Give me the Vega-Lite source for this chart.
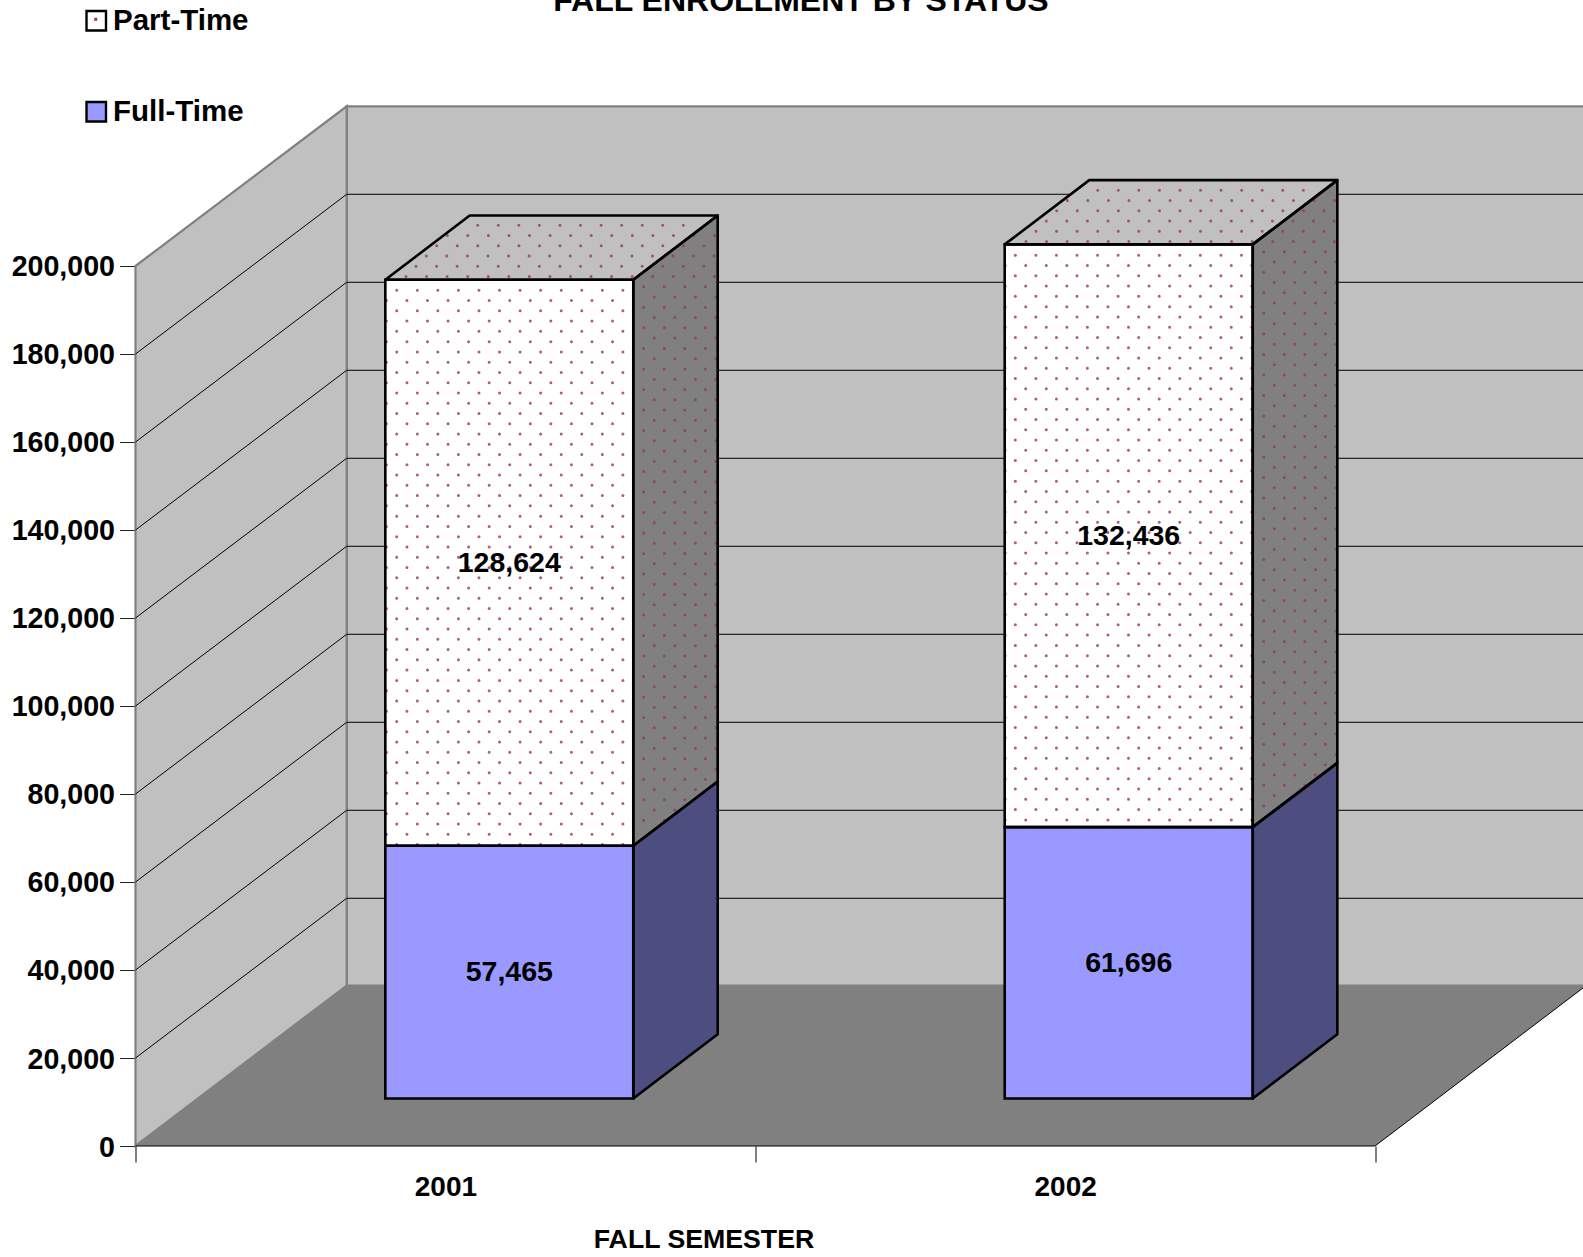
{"$schema":"https://vega.github.io/schema/vega-lite/v6.json","width":1447.5,"height":1146,"autosize":{"type":"none"},"padding":{"left":135.5,"top":0,"right":0,"bottom":111},"background":"white",
"config":{"view":{"stroke":null},"font":"Liberation Sans"},
"datasets":{
"chartTitle":[{"text":"FALL ENROLLMENT BY STATUS","x":2001.5738,"y":257954}],
"walls":[{"part":"back","x":2000.8408,"y":236300,"y2":36477},{"part":"back","x":2002.8408,"y":236300,"y2":36477},{"part":"left","x":2000.5,"y":200000,"y2":0},{"part":"left","x":2000.8408,"y":236300,"y2":36477},{"part":"floor","x":2000.5,"y":0,"y2":0},{"part":"floor","x":2000.8408,"y":36477,"y2":0},{"part":"floor","x":2002.5,"y":36477,"y2":0},{"part":"floor","x":2002.8408,"y":36477,"y2":36477}],
"grid":[{"s":"20000","x":2000.5,"y":20000},{"s":"20000","x":2000.8408,"y":56300},{"s":"20000","x":2002.8408,"y":56300},{"s":"40000","x":2000.5,"y":40000},{"s":"40000","x":2000.8408,"y":76300},{"s":"40000","x":2002.8408,"y":76300},{"s":"60000","x":2000.5,"y":60000},{"s":"60000","x":2000.8408,"y":96300},{"s":"60000","x":2002.8408,"y":96300},{"s":"80000","x":2000.5,"y":80000},{"s":"80000","x":2000.8408,"y":116300},{"s":"80000","x":2002.8408,"y":116300},{"s":"100000","x":2000.5,"y":100000},{"s":"100000","x":2000.8408,"y":136300},{"s":"100000","x":2002.8408,"y":136300},{"s":"120000","x":2000.5,"y":120000},{"s":"120000","x":2000.8408,"y":156300},{"s":"120000","x":2002.8408,"y":156300},{"s":"140000","x":2000.5,"y":140000},{"s":"140000","x":2000.8408,"y":176300},{"s":"140000","x":2002.8408,"y":176300},{"s":"160000","x":2000.5,"y":160000},{"s":"160000","x":2000.8408,"y":196300},{"s":"160000","x":2002.8408,"y":196300},{"s":"180000","x":2000.5,"y":180000},{"s":"180000","x":2000.8408,"y":216300},{"s":"180000","x":2002.8408,"y":216300},{"s":"front","x":2000.5,"y":0},{"s":"front","x":2002.5,"y":0},{"s":"front","x":2002.8408,"y":36477}],
"faces":[
{"id":"a-ft","kind":"side-ft","x":2001.3032,"y":68245,"y2":10780},{"id":"a-ft","kind":"side-ft","x":2001.4394,"y":82845,"y2":25380},
{"id":"a-pt","kind":"side-pt","x":2001.3032,"y":196869,"y2":68245},{"id":"a-pt","kind":"side-pt","x":2001.4394,"y":211469,"y2":82845},
{"id":"a-top","kind":"top","x":2000.9031,"y":196869,"y2":196869},{"id":"a-top","kind":"top","x":2001.0393,"y":211469,"y2":196869},{"id":"a-top","kind":"top","x":2001.3032,"y":211469,"y2":196869},{"id":"a-top","kind":"top","x":2001.4394,"y":211469,"y2":211469},
{"id":"b-ft","kind":"side-ft","x":2002.3027,"y":72476,"y2":10780},{"id":"b-ft","kind":"side-ft","x":2002.4392,"y":87076,"y2":25380},
{"id":"b-pt","kind":"side-pt","x":2002.3027,"y":204912,"y2":72476},{"id":"b-pt","kind":"side-pt","x":2002.4392,"y":219512,"y2":87076},
{"id":"b-top","kind":"top","x":2001.9025,"y":204912,"y2":204912},{"id":"b-top","kind":"top","x":2002.039,"y":219512,"y2":204912},{"id":"b-top","kind":"top","x":2002.3027,"y":219512,"y2":204912},{"id":"b-top","kind":"top","x":2002.4392,"y":219512,"y2":219512}],
"fronts":[
{"semester":2001,"status":"Full-Time","value":57465,"x":2000.9031,"x2":2001.3032,"y":68245,"y2":10780},
{"semester":2001,"status":"Part-Time","value":128624,"x":2000.9031,"x2":2001.3032,"y":196869,"y2":68245},
{"semester":2002,"status":"Full-Time","value":61696,"x":2001.9025,"x2":2002.3027,"y":72476,"y2":10780},
{"semester":2002,"status":"Part-Time","value":132436,"x":2001.9025,"x2":2002.3027,"y":204912,"y2":72476}],
"labels":[{"value":57465,"x":2001.1031,"y":39512},{"value":128624,"x":2001.1031,"y":132557},{"value":61696,"x":2002.1026,"y":41628},{"value":132436,"x":2002.1026,"y":138694}],
"legendDot":[{"x":2000.4358,"y":256068}],
"dots":[
{"x":2000.9215,"x2":2001.3011,"y":194477},{"x":2000.9048,"x2":2001.3011,"y":192144},{"x":2000.9215,"x2":2001.3011,"y":189811},{"x":2000.9048,"x2":2001.3011,"y":187478},{"x":2000.9215,"x2":2001.3011,"y":185145},{"x":2000.9048,"x2":2001.3011,"y":182812},{"x":2000.9215,"x2":2001.3011,"y":180479},{"x":2000.9048,"x2":2001.3011,"y":178146},{"x":2000.9215,"x2":2001.3011,"y":175813},{"x":2000.9048,"x2":2001.3011,"y":173480},{"x":2000.9215,"x2":2001.3011,"y":171147},{"x":2000.9048,"x2":2001.3011,"y":168814},{"x":2000.9215,"x2":2001.3011,"y":166481},{"x":2000.9048,"x2":2001.3011,"y":164148},{"x":2000.9215,"x2":2001.3011,"y":161815},{"x":2000.9048,"x2":2001.3011,"y":159482},{"x":2000.9215,"x2":2001.3011,"y":157149},{"x":2000.9048,"x2":2001.3011,"y":154816},{"x":2000.9215,"x2":2001.3011,"y":152483},{"x":2000.9048,"x2":2001.3011,"y":150150},{"x":2000.9215,"x2":2001.3011,"y":147817},{"x":2000.9048,"x2":2001.3011,"y":145484},{"x":2000.9215,"x2":2001.3011,"y":143151},{"x":2000.9048,"x2":2001.3011,"y":140818},{"x":2000.9215,"x2":2001.3011,"y":138485},{"x":2000.9048,"x2":2001.3011,"y":136152},{"x":2000.9215,"x2":2001.3011,"y":133819},{"x":2000.9048,"x2":2001.3011,"y":131486},{"x":2000.9215,"x2":2001.3011,"y":129153},{"x":2000.9048,"x2":2001.3011,"y":126820},{"x":2000.9215,"x2":2001.3011,"y":124487},{"x":2000.9048,"x2":2001.3011,"y":122154},{"x":2000.9215,"x2":2001.3011,"y":119821},{"x":2000.9048,"x2":2001.3011,"y":117488},{"x":2000.9215,"x2":2001.3011,"y":115155},{"x":2000.9048,"x2":2001.3011,"y":112822},{"x":2000.9215,"x2":2001.3011,"y":110489},{"x":2000.9048,"x2":2001.3011,"y":108156},{"x":2000.9215,"x2":2001.3011,"y":105823},{"x":2000.9048,"x2":2001.3011,"y":103490},{"x":2000.9215,"x2":2001.3011,"y":101157},{"x":2000.9048,"x2":2001.3011,"y":98824},{"x":2000.9215,"x2":2001.3011,"y":96491},{"x":2000.9048,"x2":2001.3011,"y":94158},{"x":2000.9215,"x2":2001.3011,"y":91825},{"x":2000.9048,"x2":2001.3011,"y":89492},{"x":2000.9215,"x2":2001.3011,"y":87159},{"x":2000.9048,"x2":2001.3011,"y":84826},{"x":2000.9215,"x2":2001.3011,"y":82493},{"x":2000.9048,"x2":2001.3011,"y":80160},{"x":2000.9215,"x2":2001.3011,"y":77827},{"x":2000.9048,"x2":2001.3011,"y":75494},{"x":2000.9215,"x2":2001.3011,"y":73161},{"x":2000.9048,"x2":2001.3011,"y":70828},{"x":2000.9215,"x2":2001.3011,"y":68495},
{"x":2001.0522,"x2":2001.4109,"y":209250},{"x":2001.0031,"x2":2001.4367,"y":206919},{"x":2000.986,"x2":2001.4367,"y":204588},{"x":2000.9692,"x2":2001.4367,"y":202257},{"x":2000.9526,"x2":2001.4367,"y":199926},{"x":2000.9365,"x2":2001.4367,"y":197595},
{"x":2001.32,"x2":2001.4367,"y":195264},{"x":2001.3371,"x2":2001.4367,"y":192933},{"x":2001.32,"x2":2001.4367,"y":190602},{"x":2001.3371,"x2":2001.4367,"y":188271},{"x":2001.32,"x2":2001.4367,"y":185940},{"x":2001.3371,"x2":2001.4367,"y":183609},{"x":2001.32,"x2":2001.4367,"y":181278},{"x":2001.3371,"x2":2001.4367,"y":178947},{"x":2001.32,"x2":2001.4367,"y":176616},{"x":2001.3371,"x2":2001.4367,"y":174285},{"x":2001.32,"x2":2001.4367,"y":171954},{"x":2001.3371,"x2":2001.4367,"y":169623},{"x":2001.32,"x2":2001.4367,"y":167292},{"x":2001.3371,"x2":2001.4367,"y":164961},{"x":2001.32,"x2":2001.4367,"y":162630},{"x":2001.3371,"x2":2001.4367,"y":160299},{"x":2001.32,"x2":2001.4367,"y":157968},{"x":2001.3371,"x2":2001.4367,"y":155637},{"x":2001.32,"x2":2001.4367,"y":153306},{"x":2001.3371,"x2":2001.4367,"y":150975},{"x":2001.32,"x2":2001.4367,"y":148644},{"x":2001.3371,"x2":2001.4367,"y":146313},{"x":2001.32,"x2":2001.4367,"y":143982},{"x":2001.3371,"x2":2001.4367,"y":141651},{"x":2001.32,"x2":2001.4367,"y":139320},{"x":2001.3371,"x2":2001.4367,"y":136989},{"x":2001.32,"x2":2001.4367,"y":134658},{"x":2001.3371,"x2":2001.4367,"y":132327},{"x":2001.32,"x2":2001.4367,"y":129996},{"x":2001.3371,"x2":2001.4367,"y":127665},{"x":2001.32,"x2":2001.4367,"y":125334},{"x":2001.3371,"x2":2001.4367,"y":123003},{"x":2001.32,"x2":2001.4367,"y":120672},{"x":2001.3371,"x2":2001.4367,"y":118341},{"x":2001.32,"x2":2001.4367,"y":116010},{"x":2001.3371,"x2":2001.4367,"y":113679},{"x":2001.32,"x2":2001.4367,"y":111348},{"x":2001.3371,"x2":2001.4367,"y":109017},{"x":2001.32,"x2":2001.4367,"y":106686},{"x":2001.3371,"x2":2001.4367,"y":104355},{"x":2001.32,"x2":2001.4367,"y":102024},{"x":2001.3371,"x2":2001.4367,"y":99693},{"x":2001.32,"x2":2001.4367,"y":97362},{"x":2001.3371,"x2":2001.4367,"y":95031},{"x":2001.32,"x2":2001.4367,"y":92700},{"x":2001.3371,"x2":2001.4367,"y":90369},{"x":2001.32,"x2":2001.4367,"y":88038},{"x":2001.3371,"x2":2001.4367,"y":85707},{"x":2001.32,"x2":2001.4367,"y":83376},{"x":2001.3371,"x2":2001.4189,"y":81045},{"x":2001.32,"x2":2001.3976,"y":78714},{"x":2001.3371,"x2":2001.377,"y":76383},{"x":2001.32,"x2":2001.3555,"y":74052},
{"x":2001.9196,"x2":2002.3015,"y":202432},{"x":2001.9032,"x2":2002.3015,"y":200099},{"x":2001.9196,"x2":2002.3015,"y":197766},{"x":2001.9032,"x2":2002.3015,"y":195433},{"x":2001.9196,"x2":2002.3015,"y":193100},{"x":2001.9032,"x2":2002.3015,"y":190767},{"x":2001.9196,"x2":2002.3015,"y":188434},{"x":2001.9032,"x2":2002.3015,"y":186101},{"x":2001.9196,"x2":2002.3015,"y":183768},{"x":2001.9032,"x2":2002.3015,"y":181435},{"x":2001.9196,"x2":2002.3015,"y":179102},{"x":2001.9032,"x2":2002.3015,"y":176769},{"x":2001.9196,"x2":2002.3015,"y":174436},{"x":2001.9032,"x2":2002.3015,"y":172103},{"x":2001.9196,"x2":2002.3015,"y":169770},{"x":2001.9032,"x2":2002.3015,"y":167437},{"x":2001.9196,"x2":2002.3015,"y":165104},{"x":2001.9032,"x2":2002.3015,"y":162771},{"x":2001.9196,"x2":2002.3015,"y":160438},{"x":2001.9032,"x2":2002.3015,"y":158105},{"x":2001.9196,"x2":2002.3015,"y":155772},{"x":2001.9032,"x2":2002.3015,"y":153439},{"x":2001.9196,"x2":2002.3015,"y":151106},{"x":2001.9032,"x2":2002.3015,"y":148773},{"x":2001.9196,"x2":2002.3015,"y":146440},{"x":2001.9032,"x2":2002.3015,"y":144107},{"x":2001.9196,"x2":2002.3015,"y":141774},{"x":2001.9032,"x2":2002.3015,"y":139441},{"x":2001.9196,"x2":2002.3015,"y":137108},{"x":2001.9032,"x2":2002.3015,"y":134775},{"x":2001.9196,"x2":2002.3015,"y":132442},{"x":2001.9032,"x2":2002.3015,"y":130109},{"x":2001.9196,"x2":2002.3015,"y":127776},{"x":2001.9032,"x2":2002.3015,"y":125443},{"x":2001.9196,"x2":2002.3015,"y":123110},{"x":2001.9032,"x2":2002.3015,"y":120777},{"x":2001.9196,"x2":2002.3015,"y":118444},{"x":2001.9032,"x2":2002.3015,"y":116111},{"x":2001.9196,"x2":2002.3015,"y":113778},{"x":2001.9032,"x2":2002.3015,"y":111445},{"x":2001.9196,"x2":2002.3015,"y":109112},{"x":2001.9032,"x2":2002.3015,"y":106779},{"x":2001.9196,"x2":2002.3015,"y":104446},{"x":2001.9032,"x2":2002.3015,"y":102113},{"x":2001.9196,"x2":2002.3015,"y":99780},{"x":2001.9032,"x2":2002.3015,"y":97447},{"x":2001.9196,"x2":2002.3015,"y":95114},{"x":2001.9032,"x2":2002.3015,"y":92781},{"x":2001.9196,"x2":2002.3015,"y":90448},{"x":2001.9032,"x2":2002.3015,"y":88115},{"x":2001.9196,"x2":2002.3015,"y":85782},{"x":2001.9032,"x2":2002.3015,"y":83449},{"x":2001.9196,"x2":2002.3015,"y":81116},{"x":2001.9032,"x2":2002.3015,"y":78783},{"x":2001.9196,"x2":2002.3015,"y":76450},{"x":2001.9032,"x2":2002.3015,"y":74117},
{"x":2002.0526,"x2":2002.4113,"y":217205},{"x":2002.0035,"x2":2002.4371,"y":214874},{"x":2001.9864,"x2":2002.4371,"y":212543},{"x":2001.9696,"x2":2002.4371,"y":210212},{"x":2001.953,"x2":2002.4371,"y":207881},{"x":2001.9369,"x2":2002.4371,"y":205550},
{"x":2002.3204,"x2":2002.4371,"y":203219},{"x":2002.3375,"x2":2002.4371,"y":200888},{"x":2002.3204,"x2":2002.4371,"y":198557},{"x":2002.3375,"x2":2002.4371,"y":196226},{"x":2002.3204,"x2":2002.4371,"y":193895},{"x":2002.3375,"x2":2002.4371,"y":191564},{"x":2002.3204,"x2":2002.4371,"y":189233},{"x":2002.3375,"x2":2002.4371,"y":186902},{"x":2002.3204,"x2":2002.4371,"y":184571},{"x":2002.3375,"x2":2002.4371,"y":182240},{"x":2002.3204,"x2":2002.4371,"y":179909},{"x":2002.3375,"x2":2002.4371,"y":177578},{"x":2002.3204,"x2":2002.4371,"y":175247},{"x":2002.3375,"x2":2002.4371,"y":172916},{"x":2002.3204,"x2":2002.4371,"y":170585},{"x":2002.3375,"x2":2002.4371,"y":168254},{"x":2002.3204,"x2":2002.4371,"y":165923},{"x":2002.3375,"x2":2002.4371,"y":163592},{"x":2002.3204,"x2":2002.4371,"y":161261},{"x":2002.3375,"x2":2002.4371,"y":158930},{"x":2002.3204,"x2":2002.4371,"y":156599},{"x":2002.3375,"x2":2002.4371,"y":154268},{"x":2002.3204,"x2":2002.4371,"y":151937},{"x":2002.3375,"x2":2002.4371,"y":149606},{"x":2002.3204,"x2":2002.4371,"y":147275},{"x":2002.3375,"x2":2002.4371,"y":144944},{"x":2002.3204,"x2":2002.4371,"y":142613},{"x":2002.3375,"x2":2002.4371,"y":140282},{"x":2002.3204,"x2":2002.4371,"y":137951},{"x":2002.3375,"x2":2002.4371,"y":135620},{"x":2002.3204,"x2":2002.4371,"y":133289},{"x":2002.3375,"x2":2002.4371,"y":130958},{"x":2002.3204,"x2":2002.4371,"y":128627},{"x":2002.3375,"x2":2002.4371,"y":126296},{"x":2002.3204,"x2":2002.4371,"y":123965},{"x":2002.3375,"x2":2002.4371,"y":121634},{"x":2002.3204,"x2":2002.4371,"y":119303},{"x":2002.3375,"x2":2002.4371,"y":116972},{"x":2002.3204,"x2":2002.4371,"y":114641},{"x":2002.3375,"x2":2002.4371,"y":112310},{"x":2002.3204,"x2":2002.4371,"y":109979},{"x":2002.3375,"x2":2002.4371,"y":107648},{"x":2002.3204,"x2":2002.4371,"y":105317},{"x":2002.3375,"x2":2002.4371,"y":102986},{"x":2002.3204,"x2":2002.4371,"y":100655},{"x":2002.3375,"x2":2002.4371,"y":98324},{"x":2002.3204,"x2":2002.4371,"y":95993},{"x":2002.3375,"x2":2002.4371,"y":93662},{"x":2002.3204,"x2":2002.4371,"y":91331},{"x":2002.3375,"x2":2002.4371,"y":89000},{"x":2002.3204,"x2":2002.4322,"y":86669},{"x":2002.3375,"x2":2002.4113,"y":84338},{"x":2002.3204,"x2":2002.3895,"y":82007},{"x":2002.3375,"x2":2002.3677,"y":79676},{"x":2002.3204,"x2":2002.3467,"y":77345}]
},
"encoding":{
"x":{"field":"x","type":"quantitative","scale":{"domain":[2000.5,2002.8356],"nice":false,"zero":false},"axis":{"values":[2000.5,2001,2001.5,2002,2002.5],"labelExpr":"datum.value%1==0?format(datum.value,'d'):''","grid":false,"domain":false,"tickColor":"#808080","tickWidth":2,"tickSize":16,"tickOpacity":{"condition":{"test":"datum.value%1!=0","value":1},"value":0},"labelPadding":11,"labelFont":"Liberation Sans","labelFontSize":28,"labelFontWeight":"bold","labelColor":"black","labelOverlap":false,"labelBound":false,"labelFlush":false,"title":"FALL SEMESTER","titleFont":"Liberation Sans","titleFontSize":26.7,"titleFontWeight":"bold","titleColor":"black","titleAlign":"center","titleBaseline":"alphabetic","titleAnchor":null,"titleX":568,"titleY":101}},
"y":{"field":"y","type":"quantitative","scale":{"domain":[0,260454.5],"nice":false,"zero":false},"axis":{"values":[0,20000,40000,60000,80000,100000,120000,140000,160000,180000,200000],"labelExpr":"format(datum.value,',')","grid":false,"domain":false,"tickColor":"#222222","tickWidth":1,"tickSize":16,"labelPadding":5,"labelOffset":1,"labelFont":"Liberation Sans","labelFontSize":28.6,"labelFontWeight":"bold","labelColor":"black","labelOverlap":false,"labelBound":false,"labelFlush":false,"title":null}}
},
"layer":[
{"data":{"name":"walls"},"transform":[{"filter":"datum.part!='floor'"}],"mark":{"type":"area","fill":"#C0C0C0","stroke":"#808080","strokeWidth":2.2},"encoding":{"y2":{"field":"y2"},"detail":{"field":"part"}}},
{"data":{"name":"walls"},"transform":[{"filter":"datum.part=='floor'"}],"mark":{"type":"area","fill":"#808080"},"encoding":{"y2":{"field":"y2"}}},
{"data":{"name":"grid"},"mark":{"type":"line","color":"black","strokeWidth":1},"encoding":{"detail":{"field":"s"},"order":{"field":"x"}}},
{"data":{"name":"faces"},"transform":[{"filter":"datum.kind=='side-ft'"}],"mark":{"type":"area","fill":"#4D4D7F"},"encoding":{"y2":{"field":"y2"},"detail":{"field":"id"}}},
{"data":{"name":"faces"},"transform":[{"filter":"datum.kind=='side-pt'"}],"mark":{"type":"area","fill":"#808080"},"encoding":{"y2":{"field":"y2"},"detail":{"field":"id"}}},
{"data":{"name":"faces"},"transform":[{"filter":"datum.kind=='top'"}],"mark":{"type":"area","fill":"#C0C0C0"},"encoding":{"y2":{"field":"y2"},"detail":{"field":"id"}}},
{"data":{"name":"fronts"},"mark":{"type":"rect","fill":"white"},"encoding":{"x2":{"field":"x2"},"y2":{"field":"y2"}}},
{"data":{"name":"fronts"},"mark":{"type":"rect"},"encoding":{"x2":{"field":"x2"},"y2":{"field":"y2"},"fill":{"field":"status","type":"nominal","scale":{"domain":["Part-Time","Full-Time"],"range":["rgba(255,255,255,0)","#9999FF"]},"legend":{"title":null,"orient":"none","legendX":-54,"legendY":6,"symbolType":"square","symbolSize":380,"symbolStrokeColor":"black","symbolStrokeWidth":2.4,"symbolOpacity":1,"labelFont":"Liberation Sans","labelFontSize":29.5,"labelFontWeight":"bold","labelColor":"black","labelOffset":2,"rowPadding":60,"labelLimit":400}}}},
{"data":{"name":"dots"},"mark":{"type":"rule","color":"#993366","strokeWidth":3,"strokeCap":"round","strokeDash":[0.01,20.55],"opacity":0.8},"encoding":{"x2":{"field":"x2"}}},
{"data":{"name":"faces"},"mark":{"type":"area","fill":"transparent","stroke":"black","strokeWidth":2.6,"strokeJoin":"round"},"encoding":{"y2":{"field":"y2"},"detail":{"field":"id"}}},
{"data":{"name":"fronts"},"mark":{"type":"rect","fill":"transparent","stroke":"black","strokeWidth":2.6},"encoding":{"x2":{"field":"x2"},"y2":{"field":"y2"}}},
{"data":{"name":"labels"},"mark":{"type":"text","font":"Liberation Sans","fontSize":28.5,"fontWeight":"bold","color":"black","align":"center","baseline":"middle"},"encoding":{"text":{"field":"value","type":"quantitative","format":","}}},
{"data":{"name":"legendDot"},"mark":{"type":"square","color":"#993366","size":9,"opacity":1}},
{"data":{"name":"chartTitle"},"mark":{"type":"text","font":"Liberation Sans","fontSize":32,"fontWeight":"bold","color":"black","align":"center","baseline":"alphabetic"},"encoding":{"text":{"field":"text","type":"nominal"}}}
]}
